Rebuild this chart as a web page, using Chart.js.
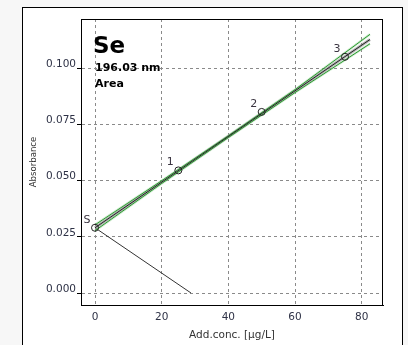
<!DOCTYPE html>
<html>
<head>
<meta charset="utf-8">
<script src="https://cdn.jsdelivr.net/npm/chart.js@4/dist/chart.umd.min.js"></script>
<style>
  html, body { margin: 0; padding: 0; background: #f7f7f7; }
  #wrap { position: relative; width: 408px; height: 345px; overflow: hidden; }
  #panel { position: absolute; left: 22px; top: 7px; width: 379px; height: 360px;
           background: #fff; border: 1px solid #000; }
  #chart { position: absolute; left: 0; top: 0; }
</style>
</head>
<body>
<div id="wrap">
  <div id="panel"></div>
  <canvas id="chart" width="408" height="345"></canvas>
</div>
<script>
// measured standards (standard addition)
var conc = [0, 25, 50, 75];
var absorbance = [0.0290, 0.0545, 0.0805, 0.1050];
var pointLabels = ["S", "1", "2", "3"];

// regression line
var fitX = [0, 82.5];
var fitY = [0.0290, 0.1127];

// confidence bands
var bandX = [0, 20, 40, 60, 82.5];
var upperBand = [0.0303, 0.0499, 0.0699, 0.0904, 0.1150];
var lowerBand = [0.0277, 0.0487, 0.0691, 0.0891, 0.1108];

// extrapolation to the x intercept (mirrored)
var extrapX = [0, 28.8];
var extrapY = [0.0290, 0];

// axis ticks
var xTicks = [0, 20, 40, 60, 80];
var yTicks = [0, 0.025, 0.05, 0.075, 0.1];

function pts(xs, ys) {
  return xs.map(function (x, i) { return { x: x, y: ys[i] }; });
}

function lineSet(xs, ys, color, width) {
  return {
    data: pts(xs, ys),
    showLine: true,
    borderColor: color,
    borderWidth: width,
    pointRadius: 0,
    fill: false
  };
}

var textColor = "#2e3246";

// plot frame, info text and point labels
var extras = {
  id: "extras",
  afterDatasetsDraw: function (chart) {
    var ctx = chart.ctx;
    var a = chart.chartArea;
    ctx.save();
    ctx.strokeStyle = "#000";
    ctx.lineWidth = 1;
    ctx.strokeRect(a.left + 0.5, a.top + 0.5, a.right - a.left - 1, a.bottom - a.top);

    ctx.fillStyle = "#000";
    ctx.textAlign = "left";
    ctx.textBaseline = "alphabetic";
    ctx.font = "bold 23px 'DejaVu Sans'";
    ctx.fillText("Se", a.left + 12, 53);
    ctx.font = "bold 11px 'DejaVu Sans'";
    ctx.fillText("196.03 nm", a.left + 14, 71);
    ctx.fillText("Area", a.left + 14, 87);

    var xs = chart.scales.x, ys = chart.scales.y;
    ctx.font = "11px 'DejaVu Sans'";
    ctx.fillStyle = "#3a3440";
    ctx.textAlign = "center";
    ctx.textBaseline = "middle";
    for (var i = 0; i < conc.length; i++) {
      ctx.fillText(pointLabels[i], xs.getPixelForValue(conc[i]) - 8, ys.getPixelForValue(absorbance[i]) - 8);
    }
    ctx.restore();
  }
};

var ctx = document.getElementById("chart").getContext("2d");
new Chart(ctx, {
  type: "scatter",
  data: {
    datasets: [
      {
        data: pts(conc, absorbance),
        pointRadius: 3.5,
        pointBorderColor: "#222",
        pointBackgroundColor: "rgba(255,255,255,0)",
        pointBorderWidth: 1,
        showLine: false
      },
      lineSet(fitX, fitY, "#222", 1),
      lineSet(bandX, upperBand, "#2a9a30", 1),
      lineSet(bandX, lowerBand, "#2a9a30", 1),
      lineSet(fitX, fitY, "rgba(150,150,150,0.7)", 3),
      lineSet(bandX, upperBand, "rgba(140,205,140,0.4)", 2.5),
      lineSet(bandX, lowerBand, "rgba(140,205,140,0.4)", 2.5),
      lineSet(extrapX, extrapY, "#333", 1)
    ]
  },
  options: {
    responsive: false,
    animation: false,
    devicePixelRatio: 1,
    layout: { padding: { top: 19, right: 25, left: 0, bottom: 0 } },
    plugins: { legend: { display: false }, tooltip: { enabled: false } },
    scales: {
      x: {
        type: "linear",
        min: -4.2,
        max: 86.4,
        afterFit: function (s) { s.height = 40; },
        afterBuildTicks: function (s) { s.ticks = xTicks.map(function (v) { return { value: v }; }); },
        ticks: {
          color: textColor,
          font: { family: "DejaVu Sans", size: 10.5 },
          padding: 2,
          maxRotation: 0
        },
        grid: {
          color: "#8a8a8a",
          lineWidth: 1,
          tickLength: 4,
          tickColor: "rgba(0,0,0,0)",
          tickBorderDash: []
        },
        border: { display: true, color: "#000", dash: [3, 3] },
        title: {
          display: true,
          text: "Add.conc. [\u00b5g/L]",
          color: "#333",
          font: { family: "DejaVu Sans", size: 10.5 },
          padding: { top: 0, bottom: 3 }
        }
      },
      y: {
        type: "linear",
        min: -0.00533,
        max: 0.1218,
        afterFit: function (s) { s.width = 81; },
        afterBuildTicks: function (s) { s.ticks = yTicks.map(function (v) { return { value: v }; }); },
        ticks: {
          color: textColor,
          font: { family: "DejaVu Sans", size: 10.5 },
          padding: 1,
          labelOffset: -4,
          callback: function (v) { return Number(v).toFixed(3); }
        },
        grid: {
          color: "#8a8a8a",
          lineWidth: 1,
          tickLength: 4,
          tickColor: "#000",
          tickBorderDash: []
        },
        border: { display: true, color: "#000", dash: [3, 3] },
        title: {
          display: true,
          text: "Absorbance",
          color: "#333",
          font: { family: "DejaVu Sans Condensed", size: 9.5 },
          padding: { top: 28, bottom: 0 }
        }
      }
    }
  },
  plugins: [extras]
});
</script>
</body>
</html>
